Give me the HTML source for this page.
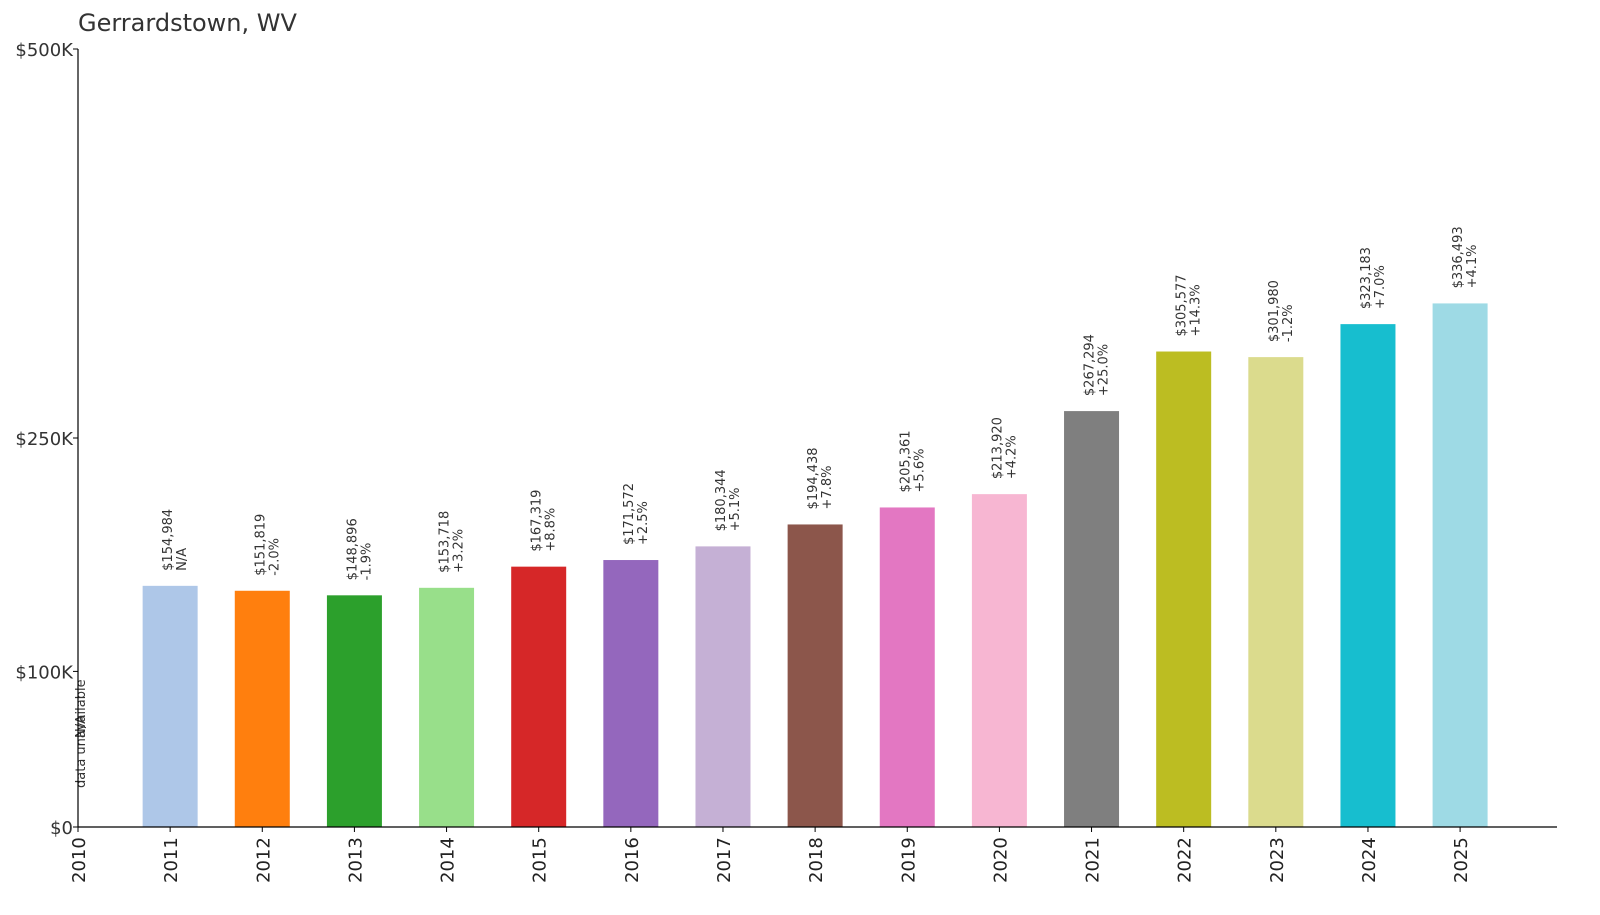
<!DOCTYPE html>
<html><head><meta charset="utf-8"><style>
body{margin:0;background:#fff;font-family:"Liberation Sans","DejaVu Sans",sans-serif}
</style></head><body>
<svg width="1600" height="910" xmlns="http://www.w3.org/2000/svg" font-family="DejaVu Sans, Liberation Sans, sans-serif">
<text x="78" y="31" font-size="24" fill="#333">Gerrardstown, WV</text>
<g id="plot"></g>
</svg>
<script>
const years=[2011,2012,2013,2014,2015,2016,2017,2018,2019,2020,2021,2022,2023,2024,2025];
const values=[154984,151819,148896,153718,167319,171572,180344,194438,205361,213920,267294,305577,301980,323183,336493];
const pcts=["N/A","-2.0%","-1.9%","+3.2%","+8.8%","+2.5%","+5.1%","+7.8%","+5.6%","+4.2%","+25.0%","+14.3%","-1.2%","+7.0%","+4.1%"];
const colors=["#aec7e8","#ff7f0e","#2ca02c","#98df8a","#d62728","#9467bd","#c5b0d5","#8c564b","#e377c2","#f7b6d2","#7f7f7f","#bcbd22","#dbdb8d","#17becf","#9edae5"];
const yTicks=[0,100000,250000,500000];
const yTickLabels=["$0","$100K","$250K","$500K"];
const NS="http://www.w3.org/2000/svg";
const g=document.getElementById('plot');
const x0=78,y0=827,yTop=49;
const X=yr=>x0+(yr-2010)*92.14;
const Y=v=>y0-(v/500000)*(y0-yTop);
function el(t,a){const e=document.createElementNS(NS,t);for(const k in a)e.setAttribute(k,a[k]);g.appendChild(e);return e;}
years.forEach((yr,i)=>{
 const cx=X(yr),top=Y(values[i]);
 const r=el('rect',{x:cx-27.5,y:top,width:55,height:y0-top,fill:colors[i]});
 
 
 const t1=el('text',{transform:`translate(${cx+2},${top-15}) rotate(-90)`,'font-size':13,fill:'#333'});
 t1.textContent='$'+values[i].toLocaleString('en-US');
 
 
 const t2=el('text',{transform:`translate(${cx+16},${top-15}) rotate(-90)`,'font-size':13,fill:'#333'});
 t2.textContent=pcts[i];
 
 
});
const na1=el('text',{transform:`translate(${X(2010)+7},788) rotate(-90)`,'font-size':13,fill:'#333'});
na1.textContent='data unavailable';


const na2=el('text',{transform:`translate(${X(2010)+7},738) rotate(-90)`,'font-size':13,fill:'#333'});
na2.textContent='N/A';


const ya=el('line',{x1:x0,y1:yTop,x2:x0,y2:y0,stroke:'#000','stroke-width':1.2});


const xa=el('line',{x1:x0,y1:y0,x2:1557,y2:y0,stroke:'#000','stroke-width':1.2});


yTicks.forEach((v,i)=>{
 el('line',{x1:x0-5,y1:Y(v),x2:x0,y2:Y(v),stroke:'#000'});
 const t=el('text',{x:x0-5,y:Y(v)+7,'text-anchor':'end','font-size':18,fill:'#333'});
 t.textContent=yTickLabels[i];
 
 
});
[2010].concat(years).forEach(yr=>{
 const cx=X(yr);
 el('line',{x1:cx,y1:y0,x2:cx,y2:y0+5,stroke:'#000'});
 const t=el('text',{transform:`translate(${cx+7},${y0+56}) rotate(-90)`,'font-size':18,fill:'#222'});
 t.textContent=yr;
 
 
});
</script>
</body></html>
